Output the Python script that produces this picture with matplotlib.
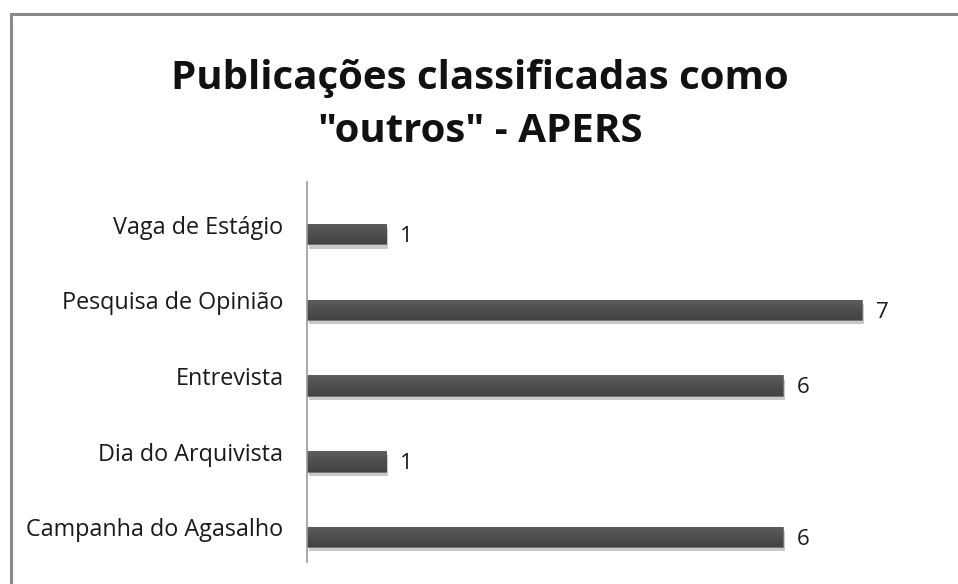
import numpy as np
import matplotlib.pyplot as plt
import matplotlib.patheffects as pe
import matplotlib.transforms as mtransforms
from matplotlib.patches import Rectangle
from matplotlib.colors import LinearSegmentedColormap

categories = ["Campanha do Agasalho", "Dia do Arquivista", "Entrevista",
              "Pesquisa de Opinião", "Vaga de Estágio"]
values = [6, 1, 6, 7, 1]
title = 'Publicações classificadas como\n"outros" - APERS'

W, H = 958, 584
fig = plt.figure(figsize=(W / 100, H / 100), dpi=100)
plt.rcParams['font.family'] = ['Open Sans', 'DejaVu Sans']

# grey frame (top + left visible, right/bottom cut off)
fig.patches.append(Rectangle((10.5 / W, -0.05), 1.2, (H - 13.5) / H + 0.05,
                             transform=fig.transFigure, fill=False,
                             edgecolor='#8a8a8a', linewidth=2.2))

ax = fig.add_axes([307 / W, (H - 562) / H, 634 / W, (562 - 182) / H])
y = range(len(categories))
bars = ax.barh(y, values, height=0.27, color='#4d4d4d', edgecolor='#707070',
               linewidth=0.6)
grad = LinearSegmentedColormap.from_list('g', ['#424242', '#4e4e4e', '#5e5e5e'])
for b in bars:
    b.set_path_effects([pe.SimplePatchShadow(offset=(1.5, -3), shadow_rgbFace='#888888',
                                             alpha=0.45), pe.Normal()])
    x0, y0, w, h = b.get_x(), b.get_y(), b.get_width(), b.get_height()
    im = ax.imshow(np.linspace(0, 1, 32).reshape(-1, 1), cmap=grad, aspect='auto',
                   extent=(x0, x0 + w, y0, y0 + h), origin='lower', zorder=2.5)
    im.set_clip_path(b)
for yi, v in zip(y, values):
    ax.annotate(str(v), (v, yi), xytext=(10, -1.5), textcoords='offset points',
                va='center', ha='left', fontsize=16, color='#1a1a1a')

ax.set_xlim(0, 8)
ax.set_ylim(-0.33, 4.69)
ax.set_yticks(list(y))
ax.set_yticklabels(categories, fontsize=16.8, color='#1a1a1a')
ax.tick_params(axis='y', length=0, pad=17)
shift = mtransforms.ScaledTranslation(0, 7 / 72, fig.dpi_scale_trans)
for lab in ax.get_yticklabels():
    lab.set_transform(lab.get_transform() + shift)
ax.set_xticks([])
for s in ['top', 'right', 'bottom']:
    ax.spines[s].set_visible(False)
ax.spines['left'].set_color('#9a9a9a')
ax.spines['left'].set_linewidth(1.2)
ax.spines['left'].set_zorder(3)

fig.text(480 / W, (H - 105) / H, title, ha='center', va='center', fontsize=29,
         fontweight='bold', linespacing=1.5, color='#111111')

fig.savefig('out.png', dpi=100)
